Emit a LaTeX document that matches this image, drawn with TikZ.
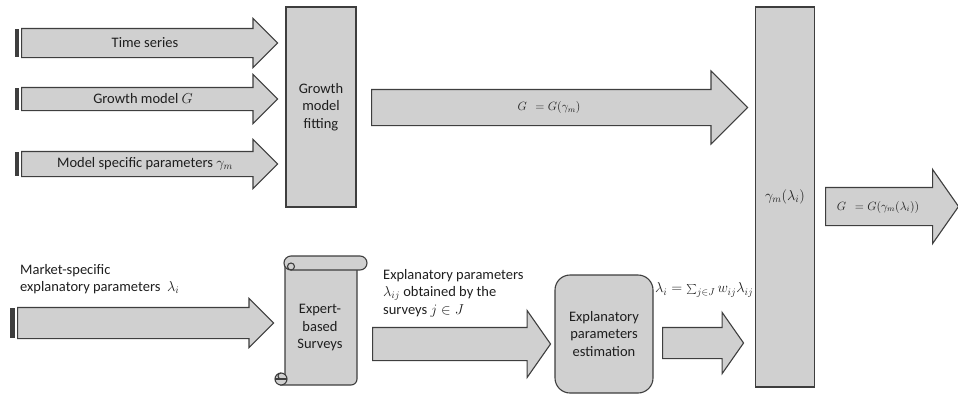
\documentclass[tikz,border=0pt]{standalone}
\usepackage{fontspec}
\setmainfont{Carlito}
\usetikzlibrary{shapes.arrows, positioning}
\definecolor{boxgray}{RGB}{208,208,208}
\definecolor{edgegray}{RGB}{62,62,62}
\definecolor{inkgray}{RGB}{30,30,30}

\begin{document}
\begin{tikzpicture}[x=1pt, y=-1pt, font=\fontsize{14.5}{17.5}\selectfont,
  blk/.style={draw=edgegray, fill=boxgray, line width=1.1pt},
  barrow/.style={blk, single arrow, inner xsep=0pt, anchor=tail},
  lbl/.style={text=inkgray, inner sep=0pt, align=center},
  mathlbl/.style={lbl, font=\fontsize{12}{14}\selectfont},
  stripe/.style={fill=edgegray}]
\useasboundingbox (0,0) rectangle (958,397);

% three inputs of the fitting
\node[barrow, minimum height=256pt, inner ysep=14pt, single arrow head extend=10pt] (ts) at (21,43) {};
\node[barrow, minimum height=256pt, inner ysep=11pt, single arrow head extend=13pt] (gm) at (21,99) {};
\node[barrow, minimum height=256pt, inner ysep=12pt, single arrow head extend=12pt] (ms) at (21,164) {};
\fill[stripe] (15,29) rectangle (19,57);
\fill[stripe] (15,88) rectangle (19,110);
\fill[stripe] (15,152) rectangle (19,176);
\node[lbl] (tsl) at (145,43) {Time series};
\node[lbl] (gml) at (143,99) {Growth model $G$};
\node[lbl] (msl) at (145,164) {Model specific parameters $\gamma_m$};

\node[blk, lbl, minimum width=70pt, minimum height=200pt] (fit) at (321,107) {Growth\\model\\fitting};

% fitted model
\node[barrow, minimum height=376pt, inner ysep=17.5pt, single arrow head extend=18.5pt] (gg) at (371,107.5) {};
\node[mathlbl] (ggl) at (549,107.5) {$G\;\,=G(\gamma_m)$};

% market-specific input
\node[barrow, minimum height=256pt, inner ysep=15pt, single arrow head extend=9pt] (mk) at (17,323) {};
\fill[stripe] (10,308) rectangle (15,338);
\node[lbl, align=left, anchor=north west] (mkl) at (20,264) {Market-specific\\explanatory parameters~~$\lambda_i$};

% scroll of the surveys
\filldraw[blk] (285,265) -- (285,380) -- (281,385) -- (351,385) arc[start angle=90, end angle=0, radius=6] -- (357,265) -- cycle;
\filldraw[blk] (291,256) -- (360,256) arc[start angle=-90, end angle=90, radius=7] -- (291,270) arc[start angle=90, end angle=270, radius=7] -- cycle;
\draw[edgegray, line width=1.1pt] (291,266.5) circle[radius=3.5];
\filldraw[blk] (281,379) circle[radius=6];
\draw[edgegray, line width=1.1pt] (281,379) arc[start angle=-90, end angle=90, radius=-3];
\draw[edgegray, line width=1.1pt] (275,379) -- (287,379);
\node[lbl] (surv) at (320,328) {Expert-\\based\\Surveys};

\node[barrow, minimum height=178pt, inner ysep=16pt, single arrow head extend=17pt, single arrow tip angle=110] (ex) at (372,344) {};
\node[lbl, align=left, anchor=north west] (exl) at (383,269) {Explanatory parameters\\$\lambda_{ij}$ obtained by the\\surveys $j\in J$};

\node[blk, lbl, rounded corners=15pt, minimum width=98pt, minimum height=118pt] (est) at (604,334) {Explanatory\\parameters\\estimation};

\node[barrow, minimum height=81pt, inner ysep=15pt, single arrow head extend=15pt, single arrow tip angle=110] (lam) at (662,343) {};
\node[lbl, anchor=west] (laml) at (655,290) {$\lambda_i=\textstyle\sum_{j\in J}w_{ij}\lambda_{ij}$};

% combined model
\node[blk, lbl, minimum width=59pt, minimum height=380pt] (gam) at (785,197) {$\gamma_m(\lambda_i)$};

\node[barrow, minimum height=133pt, inner ysep=18.5pt, single arrow head extend=18pt, single arrow tip angle=110] (out) at (825,206.5) {};
\node[mathlbl] (outl) at (878,207) {$G\;\,=G(\gamma_m(\lambda_i))$};
\end{tikzpicture}
\end{document}
